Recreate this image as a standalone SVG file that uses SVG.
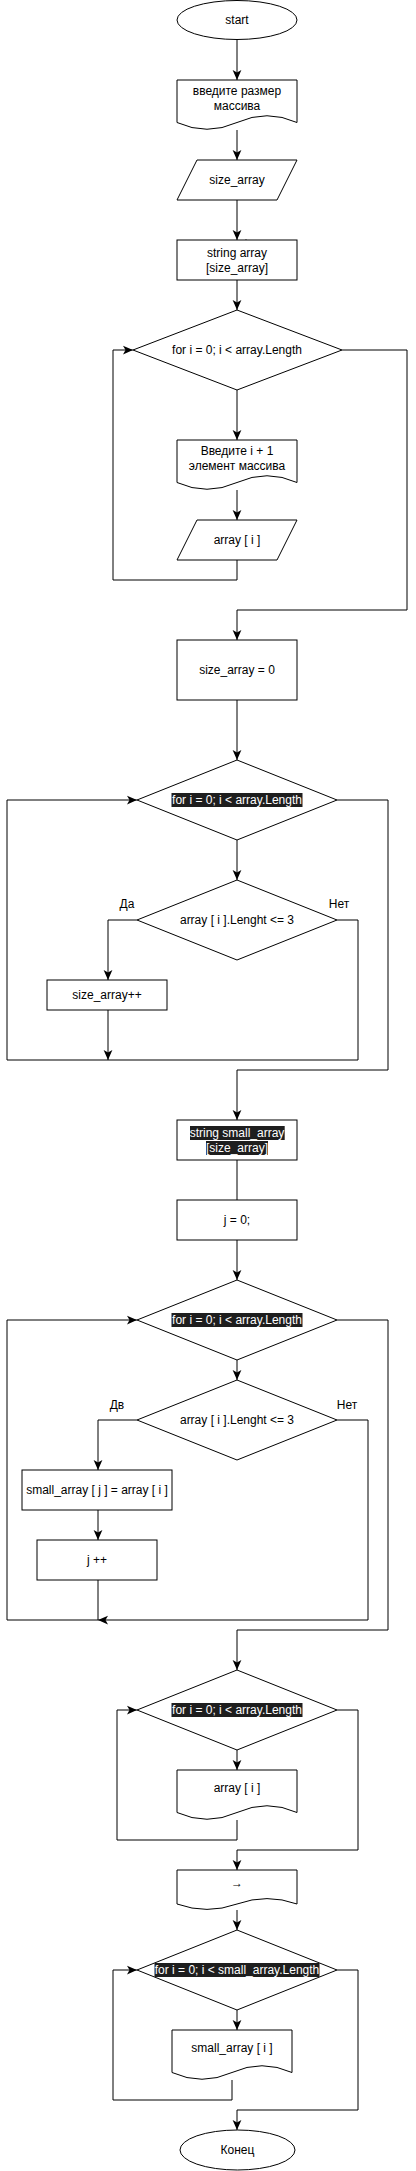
<svg xmlns="http://www.w3.org/2000/svg" width="416" height="2171" viewBox="0 0 416 2171">
<style>
.s{fill:#fff;stroke:#000;stroke-width:1}
.c{fill:none;stroke:#000;stroke-width:1}
.a{marker-end:url(#arr)}
text{font-family:"Liberation Sans",Arial,sans-serif;font-size:12px;fill:#000;text-anchor:middle}
.hl{fill:#1e1e1e;stroke:none}
text.w{fill:#fff}
</style>
<defs>
<marker id="arr" markerUnits="userSpaceOnUse" markerWidth="10" markerHeight="10" refX="8" refY="3.5" orient="auto" viewBox="0 0 8 7">
<path d="M0,0 L8,3.5 L0,7 L2,3.5 Z" fill="#000"/>
</marker>
</defs>
<rect width="416" height="2171" fill="#fff"/>
<g id="connectors">
<path class="c a" d="M237,40 V80"/>
<path class="c a" d="M237,130 V160"/>
<path class="c a" d="M237,200 V240"/>
<path d="M246,239 L250,245 L246,243.5 L242,245 Z" fill="#000"/>
<path class="c a" d="M237,280 V310"/>
<path class="c a" d="M237,390 V440"/>
<path class="c a" d="M237,490 V520"/>
<path class="c a" d="M237,560 V580 H113 V350 H133"/>
<path class="c a" d="M342,350 H407 V610 H237 V640"/>
<path class="c a" d="M237,700 V760"/>
<path class="c a" d="M237,840 V880"/>
<path class="c a" d="M137,920 H108 V980"/>
<path class="c a" d="M108,1010 V1060"/>
<path class="c a" d="M337,920 H358 V1060 H7 V800 H137"/>
<path class="c a" d="M337,800 H388 V1070 H237 V1120"/>
<path class="c" d="M237,1160 V1200"/>
<path class="c a" d="M237,1240 V1280"/>
<path class="c a" d="M237,1360 V1380"/>
<path class="c a" d="M137,1420 H98 V1470"/>
<path class="c a" d="M98,1510 V1540"/>
<path class="c a" d="M98,1580 V1620 H7 V1320 H137"/>
<path class="c a" d="M337,1420 H368 V1620 H98"/>
<path class="c a" d="M337,1320 H388 V1630 H237 V1670"/>
<path class="c a" d="M237,1750 V1770"/>
<path class="c a" d="M237,1820 V1840 H117 V1710 H137"/>
<path class="c a" d="M337,1710 H358 V1850 H237 V1870"/>
<path class="c a" d="M237,1910 V1930"/>
<path class="c a" d="M237,2010 V2030"/>
<path class="c a" d="M232,2080 V2100 H113 V1970 H137"/>
<path class="c a" d="M337,1970 H358 V2110 H237 V2130"/>
</g>
<g id="start">
<ellipse class="s" cx="237" cy="20" rx="60" ry="19.5"/>
<text x="237" y="24">start</text>
</g>
<g id="doc-size">
<path class="s" d="M177,80 H297 V122.5 Q267,109 237,122.5 T177,122.5 Z"/>
<text x="237" y="95">введите размер</text>
<text x="237" y="110">массива</text>
</g>
<g id="in-size">
<polygon class="s" points="197,160 297,160 277,200 177,200"/>
<text x="237" y="184">size_array</text>
</g>
<g id="decl-array">
<rect class="s" x="177" y="240" width="120" height="40"/>
<text x="237" y="257">string array</text>
<text x="237" y="272">[size_array]</text>
</g>
<g id="loop1">
<polygon class="s" points="237,310 342,350 237,390 133,350"/>
<text x="237" y="354">for i = 0; i &lt; array.Length</text>
</g>
<g id="doc-elem">
<path class="s" d="M177,440 H297 V482.5 Q267,469 237,482.5 T177,482.5 Z"/>
<text x="237" y="455">Введите i + 1</text>
<text x="237" y="470">элемент массива</text>
</g>
<g id="in-elem">
<polygon class="s" points="197,520 297,520 277,560 177,560"/>
<text x="237" y="544">array [ i ]</text>
</g>
<g id="size-zero">
<rect class="s" x="177" y="640" width="120" height="60"/>
<text x="237" y="674">size_array = 0</text>
</g>
<g id="loop2">
<polygon class="s" points="237,760 337,800 237,840 137,800"/>
<rect class="hl" x="171.5" y="793" width="131" height="14"/>
<text class="w" x="237" y="804">for i = 0; i &lt; array.Length</text>
</g>
<g id="cond1">
<polygon class="s" points="237,880 337,920 237,960 137,920"/>
<text x="237" y="924">array [ i ].Lenght &lt;= 3</text>
<text x="127" y="908">Да</text>
<text x="339" y="908">Нет</text>
</g>
<g id="inc-size">
<rect class="s" x="47" y="980" width="120" height="30"/>
<text x="107" y="999">size_array++</text>
</g>
<g id="decl-small">
<rect class="s" x="177" y="1120" width="120" height="40"/>
<rect class="hl" x="190" y="1126" width="94.7" height="14"/>
<rect class="hl" x="206" y="1141" width="62" height="14"/>
<text class="w" x="237" y="1137">string small_array</text>
<text class="w" x="237" y="1152">[size_array]</text>
</g>
<g id="j-zero">
<rect class="s" x="177" y="1200" width="120" height="40"/>
<text x="237" y="1224">j = 0;</text>
</g>
<g id="loop3">
<polygon class="s" points="237,1280 337,1320 237,1360 137,1320"/>
<rect class="hl" x="171.5" y="1313" width="131" height="14"/>
<text class="w" x="237" y="1324">for i = 0; i &lt; array.Length</text>
</g>
<g id="cond2">
<polygon class="s" points="237,1380 337,1420 237,1460 137,1420"/>
<text x="237" y="1424">array [ i ].Lenght &lt;= 3</text>
<text x="117" y="1409">Дв</text>
<text x="347" y="1409">Нет</text>
</g>
<g id="assign">
<rect class="s" x="22" y="1470" width="150" height="40"/>
<text x="97" y="1494">small_array [ j ] = array [ i ]</text>
</g>
<g id="inc-j">
<rect class="s" x="37" y="1540" width="120" height="40"/>
<text x="97" y="1564">j ++</text>
</g>
<g id="loop4">
<polygon class="s" points="237,1670 337,1710 237,1750 137,1710"/>
<rect class="hl" x="171.5" y="1703" width="131" height="14"/>
<text class="w" x="237" y="1714">for i = 0; i &lt; array.Length</text>
</g>
<g id="out-array">
<path class="s" d="M177,1770 H297 V1812.5 Q267,1799 237,1812.5 T177,1812.5 Z"/>
<text x="237" y="1792">array [ i ]</text>
</g>
<g id="out-arrow">
<path class="s" d="M177,1870 H297 V1904 Q267,1893.2 237,1904 T177,1904 Z"/>
<text x="237" y="1887">→</text>
</g>
<g id="loop5">
<polygon class="s" points="237,1930 337,1970 237,2010 137,1970"/>
<rect class="hl" x="154.5" y="1963" width="165" height="14"/>
<text class="w" x="237" y="1974">for i = 0; i &lt; small_array.Length</text>
</g>
<g id="out-small">
<path class="s" d="M172,2030 H292 V2072.5 Q262,2059 232,2072.5 T172,2072.5 Z"/>
<text x="232" y="2052">small_array [ i ]</text>
</g>
<g id="end">
<ellipse class="s" cx="237.5" cy="2150" rx="57.5" ry="20"/>
<text x="237.5" y="2154">Конец</text>
</g>
</svg>
